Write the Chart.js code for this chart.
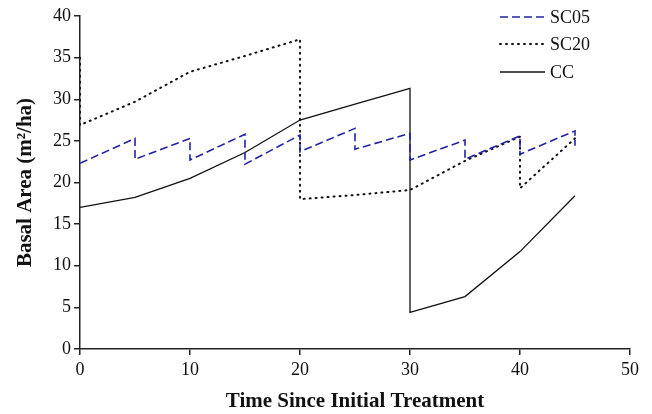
<!DOCTYPE html>
<html>
<head>
    <title>Basal Area</title>
    <script src="https://cdn.jsdelivr.net/npm/chart.js"></script>
    <style>
        body {
            margin: 0;
            background: #fff;
        }
        .chart-box {
            width: 652px;
            height: 414px;
        }
    </style>
</head>
<body>

<div class="chart-box">
    <canvas id="basalChart"></canvas>
</div>

<script>
// time since treatment (x) and basal area (y) for each scenario
const sc05Time = [0, 5, 5, 10, 10, 15, 15, 20, 20, 25, 25, 30, 30, 35, 35, 40, 40, 45, 45];
const sc05Area = [22.3, 25.3, 22.8, 25.3, 22.7, 25.8, 22.2, 25.7, 23.7, 26.5, 24.0, 25.9, 22.7, 25.1, 22.8, 25.6, 23.4, 26.2, 24.4];

const sc20Time = [0, 0, 5, 10, 15, 20, 20, 25, 30, 35, 40, 40, 45];
const sc20Area = [35.0, 26.9, 29.7, 33.3, 35.2, 37.2, 18.0, 18.5, 19.1, 22.6, 25.5, 19.3, 25.3];

const ccTime = [0, 5, 10, 15, 20, 25, 30, 30, 35, 40, 45];
const ccArea = [17.0, 18.2, 20.5, 23.6, 27.5, 29.4, 31.3, 4.4, 6.3, 11.7, 18.4];

const xTicks = [0, 10, 20, 30, 40, 50];
const yTicks = [0, 5, 10, 15, 20, 25, 30, 35, 40];

function toPoints(xs, ys) {
    return xs.map((x, i) => ({ x: x, y: ys[i] }));
}

// legend drawn inside the plot, top right
const insideLegend = {
    id: 'insideLegend',
    afterDraw(chart) {
        const ctx = chart.ctx;
        const rows = [17, 44, 72];
        ctx.save();
        chart.data.datasets.forEach((ds, i) => {
            const y = rows[i];
            ctx.beginPath();
            ctx.strokeStyle = ds.borderColor;
            ctx.lineWidth = ds.borderWidth;
            ctx.lineCap = ds.borderCapStyle || 'butt';
            ctx.setLineDash(ds.borderDash || []);
            ctx.moveTo(500, y);
            ctx.lineTo(545, y);
            ctx.stroke();
            ctx.setLineDash([]);
            ctx.fillStyle = '#111';
            ctx.font = '18px "Liberation Serif"';
            ctx.textBaseline = 'middle';
            ctx.fillText(ds.label, 550, y + 1);
        });
        ctx.restore();
    }
};

const serif = '"Liberation Serif", "DejaVu Serif", serif';

new Chart(document.getElementById('basalChart'), {
    type: 'line',
    data: {
        datasets: [{
            label: 'SC05',
            data: toPoints(sc05Time, sc05Area),
            borderColor: '#2222a6',
            borderWidth: 1.6,
            borderDash: [8, 4]
        }, {
            label: 'SC20',
            data: toPoints(sc20Time, sc20Area),
            borderColor: '#111',
            borderWidth: 2,
            borderDash: [1, 5],
            borderCapStyle: 'round'
        }, {
            label: 'CC',
            data: toPoints(ccTime, ccArea),
            borderColor: '#111',
            borderWidth: 1.3
        }]
    },
    options: {
        responsive: true,
        maintainAspectRatio: false,
        animation: false,
        elements: {
            point: { radius: 0 },
            line: { tension: 0 }
        },
        layout: {
            padding: { top: 16, right: 22, left: 0, bottom: 0 }
        },
        plugins: {
            legend: { display: false },
            tooltip: { enabled: false }
        },
        scales: {
            x: {
                type: 'linear',
                min: 0,
                max: 50,
                afterBuildTicks: axis => { axis.ticks = xTicks.map(v => ({ value: v })); },
                afterFit: axis => { axis.height = 65; },
                border: { color: '#222', width: 1.5 },
                grid: { drawOnChartArea: false, tickLength: 6, color: '#222', lineWidth: 1.5 },
                ticks: { color: '#111', font: { family: serif, size: 18 }, padding: 4, maxRotation: 0 },
                title: {
                    display: true,
                    text: 'Time Since Initial Treatment',
                    color: '#111',
                    font: { family: serif, size: 21, weight: 'bold' },
                    padding: { top: 4, bottom: 0 }
                }
            },
            y: {
                min: 0,
                max: 40,
                afterBuildTicks: axis => { axis.ticks = yTicks.map(v => ({ value: v })); },
                afterFit: axis => { axis.width = 80; },
                border: { color: '#222', width: 1.5 },
                grid: { drawOnChartArea: false, tickLength: 6, color: '#222', lineWidth: 1.5 },
                ticks: { color: '#111', font: { family: serif, size: 18 }, padding: 3 },
                title: {
                    display: true,
                    text: 'Basal Area (m²/ha)',
                    color: '#111',
                    font: { family: serif, size: 21, weight: 'bold' },
                    padding: { top: 13, bottom: 4 }
                }
            }
        }
    },
    plugins: [insideLegend]
});
</script>

</body>
</html>
